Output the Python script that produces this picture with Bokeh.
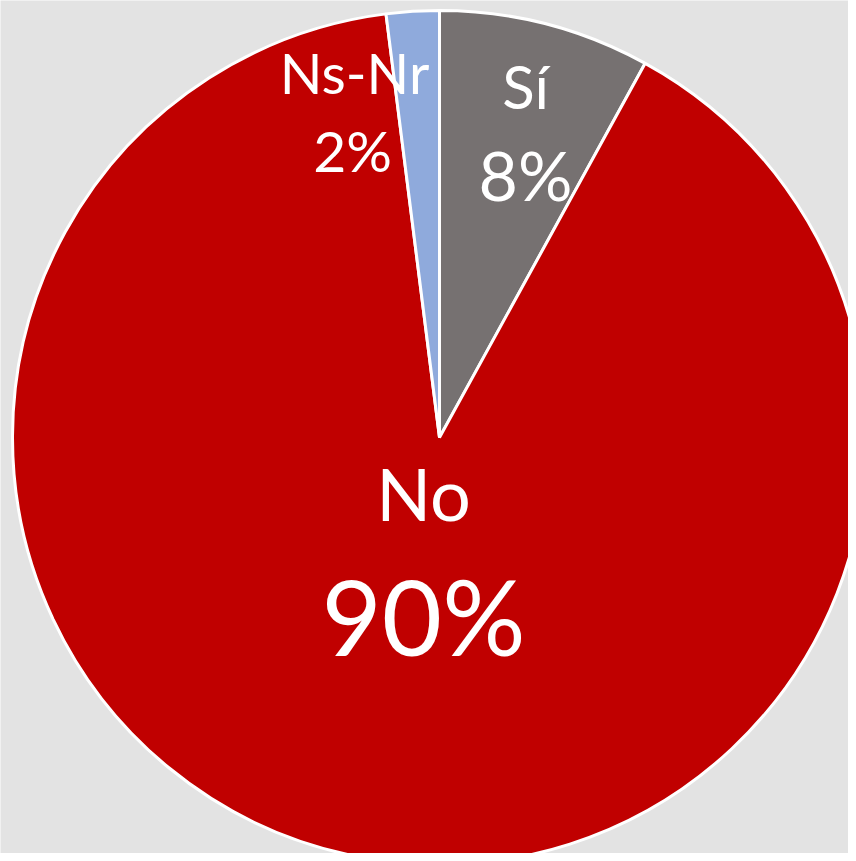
import math
from bokeh.plotting import figure
from bokeh.models import Range1d, ColumnDataSource
from bokeh.core.properties import value
from bokeh.embed import file_html
from bokeh.resources import INLINE

categories = ["Sí", "No", "Ns-Nr"]
shares = [8, 90, 2]
pct_labels = ["8%", "90%", "2%"]
colors = ["#767171", "#c00000", "#8faadc"]

W, H = 848, 853
p = figure(width=W, height=H, output_backend="svg", toolbar_location=None,
           x_range=Range1d(0, W), y_range=Range1d(0, H), min_border=0,
           background_fill_color="#e3e3e3", border_fill_color="#e3e3e3")
p.axis.visible = False
p.grid.visible = False
p.outline_line_color = None

# layout in screen pixels (origin top-left)
cx_s, cy_s, r = 439, 437, 427

def sx(x):
    return x

def sy(y):
    return H - y

total = sum(shares)
starts, ends = [], []
acc = 0
for s in shares:
    starts.append(math.pi / 2 - 2 * math.pi * acc / total)
    acc += s
    ends.append(math.pi / 2 - 2 * math.pi * acc / total)

src = ColumnDataSource(dict(start=starts, end=ends, color=colors, cat=categories))
p.wedge(x=sx(cx_s), y=sy(cy_s), radius=r, start_angle="start", end_angle="end",
        direction="clock", fill_color="color", line_color="white", line_width=3,
        source=src)

name_pos = [(525, 110, 60), (423, 522, 72), (354, 95, 56)]
pct_pos = [(525, 202, 68), (423, 658, 104), (352, 173, 57)]

def place(x, y, fs, txt):
    p.text(x=[sx(x)], y=[sy(y - 0.41 * fs)], text=[txt], text_color="white",
           text_font=value("Lato"), text_font_size=f"{fs}px",
           text_align="center", text_baseline="alphabetic")

for i in range(len(categories)):
    place(*name_pos[i], categories[i])
    place(*pct_pos[i], pct_labels[i])

open("out.html", "w").write(file_html(p, INLINE))
